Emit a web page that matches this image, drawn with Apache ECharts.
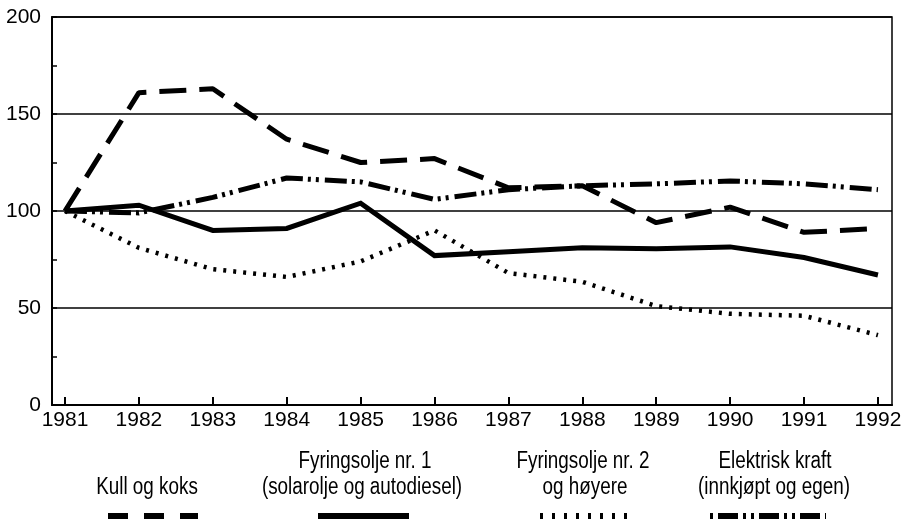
<!DOCTYPE html>
<html>
<head>
<meta charset="utf-8">
<script src="https://cdn.jsdelivr.net/npm/echarts@6/dist/echarts.min.js"></script>
<style>
  html, body { margin: 0; padding: 0; background: #fff; }
  #chart { width: 909px; height: 529px; }
</style>
</head>
<body>
<div id="chart"></div>
<script>
// data (index, 1981 = 100)
var years = [1981, 1982, 1983, 1984, 1985, 1986, 1987, 1988, 1989, 1990, 1991, 1992];
var kullOgKoks   = [100, 161, 163, 137, 125, 127, 112, 113, 94, 102, 89, 91];
var fyringsolje1 = [100, 103, 90, 91, 104, 77, 79, 81, 80.5, 81.5, 76, 67];
var fyringsolje2 = [100, 81, 70, 66, 74, 90, 68, 63.5, 51, 47, 46, 36];
var elektrisk    = [100, 99, 107, 117, 115, 106, 111, 113, 114, 115.5, 114, 111];
var yTicks = [0, 50, 100, 150, 200];

var FONT = '"Liberation Sans", Arial, sans-serif';

function pts(vals) {
  return years.map(function (y, i) { return [y, vals[i]]; });
}

// legend text, narrowed a bit like the printed condensed face
function legendText(txt, x, y) {
  return {
    type: 'text', x: x, y: y, scaleX: 0.82,
    style: { text: txt, fill: '#000', font: '23px ' + FONT, align: 'center', verticalAlign: 'middle' }
  };
}

var myChart = echarts.init(document.getElementById('chart'));

var option = {
  animation: false,
  backgroundColor: '#fff',
  grid: {
    left: 52, right: 17, top: 17, bottom: 124,
    show: true, borderColor: '#000', borderWidth: 1.5, backgroundColor: 'transparent'
  },
  xAxis: {
    type: 'value',
    min: 1980.824,
    max: 1992.19,
    axisLine: { show: true, lineStyle: { color: '#000', width: 2 } },
    axisTick: {
      show: true, inside: true, length: 8,
      customValues: years,
      lineStyle: { color: '#000', width: 2 }
    },
    axisLabel: {
      customValues: years,
      color: '#000', fontSize: 21, fontFamily: FONT, margin: 5,
      formatter: function (v) { return String(v); }
    },
    splitLine: { show: false }
  },
  yAxis: {
    type: 'value',
    min: 0, max: 200, interval: 50,
    axisLine: { show: true, lineStyle: { color: '#000', width: 2 } },
    axisTick: { show: true, inside: true, length: 5, lineStyle: { color: '#000', width: 1.5 } },
    minorTick: { show: true, splitNumber: 2, length: 5, lineStyle: { color: '#000', width: 1.5 } },
    axisLabel: {
      color: '#000', fontSize: 21, fontFamily: FONT, margin: 11,
      customValues: yTicks
    },
    splitLine: { show: true, lineStyle: { color: '#000', width: 1.5 } }
  },
  series: [
    {
      name: 'Fyringsolje nr. 2', type: 'line', data: pts(fyringsolje2),
      symbol: 'none',
      lineStyle: { color: '#000', width: 4.5, type: [3, 7], cap: 'butt' }
    },
    {
      name: 'Fyringsolje nr. 1', type: 'line', data: pts(fyringsolje1),
      symbol: 'none',
      lineStyle: { color: '#000', width: 5, type: 'solid', join: 'miter' }
    },
    {
      name: 'Elektrisk kraft', type: 'line', data: pts(elektrisk),
      symbol: 'none',
      lineStyle: { color: '#000', width: 5, type: [22, 5, 3, 5, 3, 6], cap: 'butt' }
    },
    {
      name: 'Kull og koks', type: 'line', data: pts(kullOgKoks),
      symbol: 'none',
      lineStyle: { color: '#000', width: 5, type: [27, 13], cap: 'butt' }
    }
  ],
  graphic: [
    // legend
    legendText('Kull og koks', 147, 488),
    legendText('Fyringsolje nr. 1', 365, 462),
    legendText('(solarolje og autodiesel)', 362, 488),
    legendText('Fyringsolje nr. 2', 583, 462),
    legendText('og høyere', 585, 488),
    legendText('Elektrisk kraft', 775, 462),
    legendText('(innkjøpt og egen)', 774, 488),

    { type: 'line', shape: { x1: 108, y1: 516, x2: 198, y2: 516 }, style: { stroke: '#000', lineWidth: 6, lineDash: [20, 16] } },
    { type: 'line', shape: { x1: 318, y1: 516, x2: 409, y2: 516 }, style: { stroke: '#000', lineWidth: 6 } },
    { type: 'line', shape: { x1: 540, y1: 516, x2: 631, y2: 516 }, style: { stroke: '#000', lineWidth: 6, lineDash: [3, 9] } },
    { type: 'line', shape: { x1: 710, y1: 516, x2: 826, y2: 516 }, style: { stroke: '#000', lineWidth: 6, lineDash: [3, 5, 20, 5, 3, 5] } }
  ]
};

myChart.setOption(option);
</script>
</body>
</html>
